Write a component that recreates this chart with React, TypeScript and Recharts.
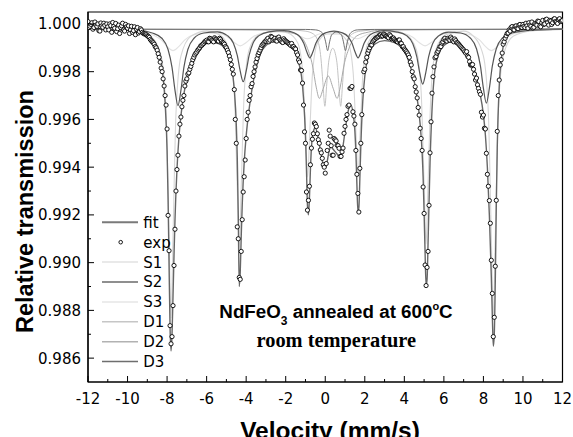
import React from 'react';
import { ComposedChart, Line, Scatter, XAxis, YAxis, ReferenceArea } from 'recharts';

type Pt = [number, number];

// measured spectrum, channels on a 0.05 mm/s grid:
// expA holds velocities -12.0, -11.9, ... 12.0; expB holds -11.95, -11.85, ... 11.95
const VEL_START = -12;
const VEL_STEP = 0.1;
const expA = [
  1.0001, 0.9999, 1.00005, 0.99985, 0.99995, 1.0, 0.9997, 0.99992, 1.00003, 0.99975,
  0.99988, 1.0, 0.99965, 0.9999, 1.00002, 0.9998, 0.9996, 0.99992, 0.99975, 0.99998,
  0.99982, 0.9996, 0.9999, 0.99972, 0.99955, 0.99985, 0.99968, 0.99975, 0.9996, 0.99958,
  0.9995, 0.99944, 0.9993, 0.99921, 0.99905, 0.9989, 0.9986, 0.99815, 0.9977, 0.997,
  0.9956, 0.9905, 0.9866, 0.9882, 0.9914, 0.9939, 0.9953, 0.9961, 0.9968, 0.9974,
  0.9977, 0.99795, 0.99822, 0.9985, 0.9987, 0.99882, 0.99895, 0.99908, 0.99915, 0.99925,
  0.99932, 0.99925, 0.99938, 0.9993, 0.99942, 0.99935, 0.99928, 0.99936, 0.99922, 0.99915,
  0.999, 0.9988, 0.9985, 0.9981, 0.99725, 0.995, 0.991, 0.9893, 0.9918, 0.9936,
  0.9952, 0.9963, 0.997, 0.9975, 0.998, 0.9984, 0.9987, 0.9989, 0.9991, 0.9992,
  0.99928, 0.9994, 0.99932, 0.99945, 0.99936, 0.9993, 0.99942, 0.99935, 0.99925, 0.99938,
  0.99928, 0.99922, 0.99915, 0.99918, 0.99905, 0.99895, 0.9987, 0.9984, 0.99805, 0.9966,
  0.995, 0.9922, 0.9932, 0.9948, 0.9954, 0.9958, 0.9954, 0.995, 0.9946, 0.9941,
  0.99375, 0.9947, 0.99555, 0.9949, 0.9945, 0.99515, 0.99492, 0.99479, 0.99445, 0.9948,
  0.99571, 0.9962, 0.9966, 0.9973, 0.99632, 0.9958, 0.9937, 0.99212, 0.995, 0.9972,
  0.9981, 0.9986, 0.9989, 0.99912, 0.99925, 0.99935, 0.99941, 0.99948, 0.99954, 0.9995,
  0.99955, 0.99948, 0.99942, 0.9995, 0.99941, 0.99935, 0.99928, 0.99932, 0.9992, 0.99905,
  0.99895, 0.99884, 0.9987, 0.9984, 0.998, 0.9977, 0.99715, 0.9965, 0.99563, 0.9947,
  0.99206, 0.98904, 0.99047, 0.9946, 0.9971, 0.9982, 0.99863, 0.99885, 0.99905, 0.9992,
  0.99935, 0.9993, 0.9994, 0.99932, 0.99938, 0.99925, 0.9993, 0.9992, 0.9991, 0.999,
  0.99891, 0.99878, 0.99865, 0.99842, 0.99828, 0.9981, 0.99765, 0.99745, 0.99716, 0.9963,
  0.99618, 0.9956, 0.9937, 0.9926, 0.9901, 0.9869, 0.98985, 0.9955, 0.99765, 0.9985,
  0.99915, 0.9994, 0.9996, 0.99975, 0.99985, 0.99978, 0.9999, 0.99982, 0.99995, 0.99986,
  0.99998, 0.99985, 0.99992, 1.00005, 0.9999, 0.99983, 1.00002, 0.99995, 1.0001, 0.99988,
  1.00015, 1.0, 1.0002, 0.99995, 1.00012, 1.00005, 1.00022, 1.00008, 1.00018, 1.0001,
  1.00015,
];
const expB = [
  0.99985, 0.99998, 0.99978, 1.00008, 0.9999, 0.99972, 1.00004, 0.99986, 0.99994, 1.0,
  0.99975, 0.99993, 1.00006, 0.99982, 0.99968, 0.99995, 0.99985, 1.00003, 0.9997, 0.99988,
  0.99992, 0.99975, 0.99965, 0.99988, 0.99978, 0.99962, 0.9998, 0.99965, 0.99958, 0.99955,
  0.99948, 0.99935, 0.99925, 0.99915, 0.999, 0.99875, 0.9984, 0.998, 0.9974, 0.9966,
  0.99198, 0.98736, 0.9869, 0.98988, 0.993, 0.9945, 0.9958, 0.99653, 0.997, 0.9976,
  0.9979, 0.9981, 0.99835, 0.9986, 0.99877, 0.9989, 0.999, 0.9991, 0.99919, 0.99928,
  0.99926, 0.9994, 0.99933, 0.99925, 0.99937, 0.9993, 0.9994, 0.99928, 0.9992, 0.99905,
  0.9989, 0.99865, 0.9983, 0.9979, 0.996, 0.9915, 0.98938, 0.99047, 0.99296, 0.9943,
  0.996, 0.9968, 0.99737, 0.9978, 0.9982, 0.99855, 0.9988, 0.999, 0.99915, 0.99926,
  0.99935, 0.99925, 0.99948, 0.99932, 0.9994, 0.99928, 0.99945, 0.9993, 0.99922, 0.99932,
  0.99925, 0.99918, 0.9991, 0.99905, 0.99898, 0.9988, 0.99849, 0.99807, 0.99752, 0.99548,
  0.99296, 0.99261, 0.9941, 0.99517, 0.99585, 0.9957, 0.99515, 0.99472, 0.99437, 0.994,
  0.99415, 0.995, 0.9953, 0.9945, 0.9952, 0.9951, 0.9949, 0.99445, 0.99464, 0.99542,
  0.996, 0.99655, 0.9973, 0.99738, 0.99614, 0.9947, 0.9929, 0.99395, 0.9962, 0.998,
  0.9984, 0.99878, 0.999, 0.99912, 0.9993, 0.99941, 0.99945, 0.99954, 0.99948, 0.99958,
  0.9995, 0.99945, 0.99955, 0.99938, 0.99941, 0.9993, 0.99925, 0.99933, 0.99918, 0.99905,
  0.9989, 0.99878, 0.9986, 0.99828, 0.99779, 0.99737, 0.9969, 0.99618, 0.9952, 0.99317,
  0.9899, 0.9898, 0.9924, 0.9959, 0.99779, 0.99858, 0.99878, 0.99895, 0.99905, 0.99925,
  0.9994, 0.99928, 0.99935, 0.99945, 0.9993, 0.99937, 0.99922, 0.99915, 0.99905, 0.99895,
  0.99884, 0.99884, 0.9986, 0.99828, 0.9983, 0.9979, 0.99773, 0.9973, 0.99705, 0.9961,
  0.99563, 0.99458, 0.9932, 0.99165, 0.98871, 0.98771, 0.99261, 0.997, 0.99828, 0.99878,
  0.99925, 0.9995, 0.99962, 0.9997, 0.99989, 0.99975, 0.99992, 0.9998, 0.99998, 0.99985,
  0.9999, 1.00003, 0.99982, 0.99995, 1.00008, 0.99986, 0.99998, 1.00012, 0.99992, 1.00005,
  0.99998, 1.00018, 1.00006, 1.00015, 0.99998, 1.0002, 1.0001, 1.00002, 1.00022, 1.00012,
];

// total fit
const fitPts: Pt[] = [
  [-12, 0.99978], [-10.5, 0.99976], [-9.6, 0.9997], [-9.2, 0.99958], [-8.9, 0.99945],
  [-8.6, 0.99918], [-8.4, 0.9988], [-8.3, 0.9984], [-8.2, 0.99775], [-8.1, 0.9967],
  [-8.0, 0.9947], [-7.95, 0.9927], [-7.9, 0.9899], [-7.85, 0.9873], [-7.8, 0.9863],
  [-7.75, 0.987], [-7.7, 0.9886], [-7.65, 0.9903], [-7.6, 0.9918], [-7.5, 0.9939],
  [-7.4, 0.99525], [-7.3, 0.99615], [-7.2, 0.9968], [-7.0, 0.9977], [-6.8, 0.99828],
  [-6.5, 0.9988], [-6.2, 0.99908], [-5.8, 0.99922], [-5.4, 0.99918], [-5.1, 0.999],
  [-4.9, 0.9987], [-4.75, 0.99825], [-4.6, 0.99725], [-4.5, 0.9958], [-4.45, 0.9944],
  [-4.4, 0.992], [-4.35, 0.989], [-4.3, 0.9896], [-4.25, 0.9911], [-4.2, 0.9924],
  [-4.1, 0.9942], [-4.0, 0.9953], [-3.9, 0.9961], [-3.7, 0.9973], [-3.5, 0.99815],
  [-3.3, 0.9987], [-3.0, 0.9991], [-2.5, 0.99928], [-2.0, 0.99918], [-1.7, 0.999],
  [-1.5, 0.9988], [-1.35, 0.9984], [-1.2, 0.9978], [-1.1, 0.9969], [-1.0, 0.9953],
  [-0.95, 0.9939], [-0.9, 0.9924], [-0.85, 0.992], [-0.8, 0.9927], [-0.75, 0.9939],
  [-0.7, 0.9948], [-0.6, 0.9955], [-0.5, 0.99565], [-0.4, 0.9954], [-0.3, 0.99495],
  [-0.2, 0.9945], [-0.1, 0.9941], [0.0, 0.99395], [0.1, 0.99425], [0.2, 0.9947],
  [0.3, 0.99485], [0.4, 0.99475], [0.5, 0.99465], [0.6, 0.99455], [0.7, 0.99445],
  [0.8, 0.9945], [0.9, 0.9949], [1.0, 0.9955], [1.1, 0.99608], [1.2, 0.99648],
  [1.3, 0.9966], [1.4, 0.9963], [1.5, 0.9955], [1.55, 0.9946], [1.6, 0.9933],
  [1.65, 0.99215], [1.7, 0.9923], [1.75, 0.9935], [1.8, 0.9949], [1.9, 0.9968],
  [2.0, 0.9978], [2.2, 0.9987], [2.5, 0.99915], [3.0, 0.9993], [3.5, 0.99922],
  [3.8, 0.99905], [4.1, 0.9987], [4.4, 0.99795], [4.6, 0.99715], [4.8, 0.9958],
  [4.9, 0.9946], [4.95, 0.9936], [5.0, 0.9921], [5.05, 0.9904], [5.1, 0.98905],
  [5.15, 0.9893], [5.2, 0.9908], [5.3, 0.9942], [5.4, 0.9964], [5.5, 0.9977],
  [5.7, 0.99865], [6.0, 0.9991], [6.4, 0.99925], [6.8, 0.99905], [7.2, 0.99865],
  [7.5, 0.99815], [7.8, 0.9972], [8.0, 0.9962], [8.1, 0.99535], [8.2, 0.994],
  [8.3, 0.992], [8.4, 0.9894], [8.45, 0.9878], [8.5, 0.9865], [8.55, 0.987],
  [8.6, 0.9892], [8.65, 0.9923], [8.7, 0.9948], [8.8, 0.9974], [8.9, 0.9985],
  [9.0, 0.99905], [9.2, 0.9995], [9.5, 0.99968], [10.2, 0.99976], [12, 0.99978],
];

// sextet S1
const s1Pts: Pt[] = [
  [-12, 0.99978], [-9.5, 0.99972], [-8.8, 0.99948], [-8.3, 0.99865], [-8.05, 0.99626],
  [-7.9, 0.99108], [-7.8, 0.98768], [-7.7, 0.99108], [-7.55, 0.99626], [-7.3, 0.99865],
  [-6.8, 0.99948], [-6.0, 0.9997], [-5.35, 0.99955], [-4.85, 0.99892], [-4.6, 0.9971],
  [-4.45, 0.99317], [-4.35, 0.99058], [-4.25, 0.99317], [-4.1, 0.9971], [-3.85, 0.99892],
  [-3.35, 0.99955], [-2.5, 0.9997], [-1.89, 0.99962], [-1.39, 0.9992], [-1.14, 0.99798],
  [-0.99, 0.99532], [-0.89, 0.99358], [-0.79, 0.99532], [-0.64, 0.99798], [-0.39, 0.9992],
  [0.11, 0.99958], [0.66, 0.99958], [1.16, 0.9992], [1.41, 0.99798], [1.56, 0.99532],
  [1.66, 0.99358], [1.76, 0.99532], [1.91, 0.99798], [2.16, 0.9992], [2.66, 0.99962],
  [3.5, 0.9997], [4.1, 0.99955], [4.6, 0.99894], [4.85, 0.99716], [5.0, 0.99331],
  [5.1, 0.99078], [5.2, 0.99331], [5.35, 0.99716], [5.6, 0.99894], [6.1, 0.99955],
  [7.0, 0.9997], [7.5, 0.99948], [8.0, 0.99865], [8.25, 0.99626], [8.4, 0.99108],
  [8.5, 0.98768], [8.6, 0.99108], [8.75, 0.99626], [9.0, 0.99865], [9.5, 0.99948],
  [10.5, 0.99972], [12, 0.99978],
];

// sextet S2
const s2Pts: Pt[] = [
  [-12, 0.99978], [-9.5, 0.99974], [-8.75, 0.99962], [-8.25, 0.99939], [-7.95, 0.99893],
  [-7.75, 0.99818], [-7.6, 0.99722], [-7.45, 0.99658], [-7.3, 0.99722], [-7.15, 0.99818],
  [-6.95, 0.99893], [-6.65, 0.99939], [-6.15, 0.99962], [-5.45, 0.99967], [-4.95, 0.99951],
  [-4.65, 0.9992], [-4.45, 0.99868], [-4.3, 0.99802], [-4.15, 0.99758], [-4.0, 0.99802],
  [-3.85, 0.99868], [-3.65, 0.9992], [-3.35, 0.99951], [-2.85, 0.99967], [-2.08, 0.99972],
  [-1.58, 0.99963], [-1.28, 0.99946], [-1.08, 0.99918], [-0.93, 0.99882], [-0.78, 0.99858],
  [-0.63, 0.99882], [-0.48, 0.99918], [-0.28, 0.99946], [0.02, 0.99963], [0.44, 0.9997],
  [0.86, 0.99963], [1.16, 0.99946], [1.36, 0.99918], [1.51, 0.99882], [1.66, 0.99858],
  [1.81, 0.99882], [1.96, 0.99918], [2.16, 0.99946], [2.46, 0.99963], [2.96, 0.99972],
  [3.63, 0.99966], [4.13, 0.9995], [4.43, 0.99917], [4.63, 0.99863], [4.78, 0.99794],
  [4.93, 0.99748], [5.08, 0.99794], [5.23, 0.99863], [5.43, 0.99917], [5.73, 0.9995],
  [6.23, 0.99966], [6.85, 0.99962], [7.35, 0.9994], [7.65, 0.99896], [7.85, 0.99823],
  [8.0, 0.9973], [8.15, 0.99668], [8.3, 0.9973], [8.45, 0.99823], [8.65, 0.99896],
  [8.95, 0.9994], [9.45, 0.99962], [10.5, 0.99974], [12, 0.99978],
];

// sextet S3 (broad)
const s3Pts: Pt[] = [
  [-12, 0.99978], [-10.1, 0.99974], [-9.3, 0.99967], [-8.7, 0.99954], [-8.3, 0.99933],
  [-8.0, 0.99906], [-7.7, 0.99888], [-7.4, 0.99906], [-7.1, 0.99933], [-6.7, 0.99954],
  [-6.0, 0.99962], [-5.3, 0.99959], [-4.9, 0.99943], [-4.6, 0.99922], [-4.3, 0.99908],
  [-4.0, 0.99922], [-3.7, 0.99943], [-3.3, 0.99959], [-2.5, 0.99966], [-1.9, 0.99967],
  [-1.5, 0.99958], [-1.2, 0.99946], [-0.9, 0.99938], [-0.6, 0.99946], [-0.3, 0.99958],
  [0.35, 0.99963], [1.0, 0.99958], [1.3, 0.99946], [1.6, 0.99938], [1.9, 0.99946],
  [2.2, 0.99958], [3.0, 0.99966], [4.05, 0.99959], [4.45, 0.99943], [4.75, 0.99922],
  [5.05, 0.99908], [5.35, 0.99922], [5.65, 0.99943], [6.05, 0.99959], [6.8, 0.99962],
  [7.4, 0.99954], [7.8, 0.99933], [8.1, 0.99906], [8.4, 0.99888], [8.7, 0.99906],
  [9.0, 0.99933], [9.4, 0.99954], [10.0, 0.99967], [11, 0.99974], [12, 0.99978],
];

// doublets
const d1Pts: Pt[] = [
  [-12, 0.99978], [-2, 0.99976], [-1.02, 0.9997], [-0.62, 0.99959], [-0.37, 0.99928],
  [-0.22, 0.99858], [-0.12, 0.99754], [-0.02, 0.99655], [0.08, 0.99752], [0.18, 0.99845],
  [0.38, 0.99898], [0.58, 0.99845], [0.68, 0.99752], [0.78, 0.99655], [0.88, 0.99754],
  [0.98, 0.99858], [1.13, 0.99928], [1.38, 0.99959], [1.78, 0.9997], [2.8, 0.99976],
  [12, 0.99978],
];

const d2Pts: Pt[] = [
  [-12, 0.99978], [-2.5, 0.99974], [-1.9, 0.99966], [-1.3, 0.9995], [-0.9, 0.99898],
  [-0.65, 0.99828], [-0.45, 0.99732], [-0.3, 0.99688], [-0.1, 0.9973], [0.15, 0.99782],
  [0.4, 0.9973], [0.6, 0.99688], [0.75, 0.99732], [0.95, 0.99828], [1.2, 0.99898],
  [1.6, 0.9995], [2.2, 0.99966], [2.8, 0.99974], [12, 0.99978],
];

const d3Pts: Pt[] = [
  [-12, 0.99978], [-1, 0.99977], [-0.48, 0.99975], [-0.23, 0.99968], [-0.08, 0.99954],
  [0.02, 0.99925], [0.12, 0.99888], [0.22, 0.99925], [0.32, 0.99954], [0.57, 0.99966],
  [0.82, 0.99954], [0.92, 0.99925], [1.02, 0.99888], [1.12, 0.99925], [1.22, 0.99954],
  [1.37, 0.99968], [1.62, 0.99975], [2.5, 0.99977], [12, 0.99978],
];

const xTicks = [-12, -11, -10, -9, -8, -7, -6, -5, -4, -3, -2, -1, 0, 1, 2, 3, 4, 5, 6, 7, 8, 9, 10, 11, 12];
const yTicks = [0.986, 0.987, 0.988, 0.989, 0.99, 0.991, 0.992, 0.993, 0.994, 0.995, 0.996, 0.997, 0.998, 0.999, 1.0];

const legendItems = [
  { name: 'fit', color: '#7a7a7a', width: 2 },
  { name: 'exp', color: '#000', width: 0 },
  { name: 'S1', color: '#e2e2e2', width: 1.5 },
  { name: 'S2', color: '#6a6a6a', width: 1.5 },
  { name: 'S3', color: '#e6e6e6', width: 1.5 },
  { name: 'D1', color: '#c6c6c6', width: 1.5 },
  { name: 'D2', color: '#b2b2b2', width: 1.5 },
  { name: 'D3', color: '#6e6e6e', width: 1.5 },
];

const rows = (pts: Pt[]) => pts.map(([v, t]) => ({ v, t }));
const channelV = (i: number, half: number) =>
  Math.round((VEL_START + (i + half) * VEL_STEP) * 100) / 100;
const expRows = [
  ...expA.map((t, i) => ({ v: channelV(i, 0), t })),
  ...expB.map((t, i) => ({ v: channelV(i, 0.5), t })),
].sort((a, b) => a.v - b.v);

const tickFont = { fontFamily: '"DejaVu Sans", sans-serif', fontSize: 15, fill: '#000' };

const XTick = ({ x, y, payload }: any) => {
  const major = payload.value % 2 === 0;
  return (
    <g>
      <line x1={x} x2={x} y1={y} y2={y - (major ? 6 : 3)} stroke="#000" strokeWidth={1} />
      {major && (
        <text x={x} y={y + 21.5} textAnchor="middle" {...tickFont}>
          {String(payload.value)}
        </text>
      )}
    </g>
  );
};

const YTick = ({ x, y, payload }: any) => {
  const major = Math.round(payload.value * 1000) % 2 === 0;
  return (
    <g>
      <line x1={x} x2={x + (major ? 6 : 3)} y1={y} y2={y} stroke="#000" strokeWidth={1} />
      {major && (
        <text x={x - 7} y={y} dy="0.36em" textAnchor="end" {...tickFont}>
          {payload.value.toFixed(3)}
        </text>
      )}
    </g>
  );
};

const ExpDot = ({ cx, cy }: any) => (
  <circle cx={cx} cy={cy} r={2.1} fill="#fff" stroke="#000" strokeWidth={0.9} />
);

export default function App() {
  return (
    <div style={{ position: 'absolute', left: 0, top: 0, width: 573, height: 437, background: '#fff' }}>
      <ComposedChart width={573} height={437} margin={{ top: 12, right: 10.5, bottom: 0, left: 0 }}>
        <XAxis
          type="number"
          dataKey="v"
          domain={[-12, 12]}
          ticks={xTicks}
          interval={0}
          height={55}
          tickSize={0}
          tickMargin={0}
          tickLine={false}
          axisLine={{ stroke: '#000', strokeWidth: 1.2 }}
          tick={(p: any) => <XTick {...p} />}
          allowDataOverflow
        />
        <YAxis
          type="number"
          domain={[0.985, 1.0005]}
          ticks={yTicks}
          interval={0}
          width={88}
          tickSize={0}
          tickMargin={0}
          tickLine={false}
          axisLine={{ stroke: '#000', strokeWidth: 1.2 }}
          tick={(p: any) => <YTick {...p} />}
          allowDataOverflow
        />
        <Line data={rows(s3Pts)} dataKey="t" type="monotone" stroke="#e2e2e2" strokeWidth={1.1} dot={false} isAnimationActive={false} />
        <Line data={rows(s1Pts)} dataKey="t" type="monotone" stroke="#d6d6d6" strokeWidth={1.1} dot={false} isAnimationActive={false} />
        <Line data={rows(d1Pts)} dataKey="t" type="monotone" stroke="#c3c3c3" strokeWidth={1} dot={false} isAnimationActive={false} />
        <Line data={rows(d2Pts)} dataKey="t" type="monotone" stroke="#a9a9a9" strokeWidth={1} dot={false} isAnimationActive={false} />
        <Line data={rows(d3Pts)} dataKey="t" type="monotone" stroke="#6f6f6f" strokeWidth={1} dot={false} isAnimationActive={false} />
        <Line data={rows(s2Pts)} dataKey="t" type="monotone" stroke="#555" strokeWidth={1.2} dot={false} isAnimationActive={false} />
        <Line data={rows(fitPts)} dataKey="t" type="monotone" stroke="#666" strokeWidth={1.4} dot={false} isAnimationActive={false} />
        <Scatter data={expRows} dataKey="t" shape={(p: any) => <ExpDot {...p} />} isAnimationActive={false} />
        <ReferenceArea x1={-12} x2={12} y1={0.985} y2={1.0005} fill="none" stroke="#000" strokeWidth={1.2} ifOverflow="visible" />
      </ComposedChart>

      <svg width={573} height={437} style={{ position: 'absolute', left: 0, top: 0, pointerEvents: 'none' }}>
        {legendItems.map((item, i) => {
          const y = 222.3 + i * 19.9;
          return (
            <g key={item.name}>
              {item.width > 0 ? (
                <line x1={102} x2={138} y1={y} y2={y} stroke={item.color} strokeWidth={item.width} />
              ) : (
                <circle cx={120.7} cy={y} r={1.8} fill="#fff" stroke="#000" strokeWidth={0.9} />
              )}
              <text x={143.3} y={y} dy="0.36em" {...tickFont}>
                {item.name}
              </text>
            </g>
          );
        })}
        <text
          x={33}
          y={211.5}
          textAnchor="middle"
          transform="rotate(-90, 33, 211.5)"
          fontFamily='"Liberation Sans", Arial, sans-serif'
          fontWeight="bold"
          fontSize={23.5}
        >
          Relative transmission
        </text>
        <text x={330} y={439} textAnchor="middle" fontFamily='"Liberation Sans", Arial, sans-serif' fontWeight="bold" fontSize={24.5}>
          Velocity (mm/s)
        </text>
        <text x={336} y={318.3} textAnchor="middle" fontFamily='"Liberation Sans", Arial, sans-serif' fontWeight="bold" fontSize={18.75}>
          NdFeO
          <tspan fontSize={12} dy={7}>3</tspan>
          <tspan dy={-7}> annealed at 600</tspan>
          <tspan fontSize={11} dy={-8}>o</tspan>
          <tspan dy={8}>C</tspan>
        </text>
        <text x={336.3} y={347} textAnchor="middle" fontFamily='"Liberation Serif", "Times New Roman", serif' fontWeight="bold" fontSize={20.4}>
          room temperature
        </text>
      </svg>
    </div>
  );
}
